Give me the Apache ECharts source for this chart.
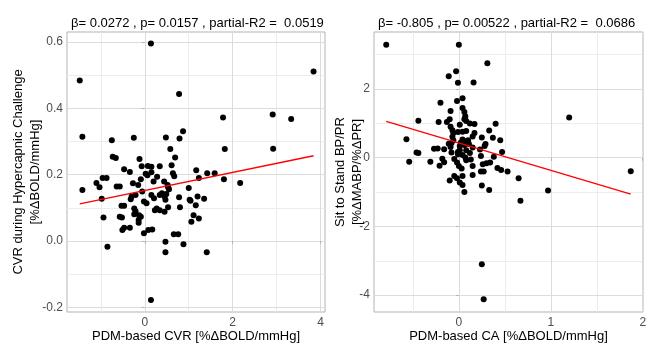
<!DOCTYPE html>
<html>
<head>
<meta charset="utf-8">
<script src="https://cdn.jsdelivr.net/npm/echarts@6/dist/echarts.min.js"></script>
<style>html,body{margin:0;padding:0;background:#fff}#c{width:654px;height:344px}</style>
</head>
<body>
<div id="c"></div>
<script>
// ---- Data ----
const cvrPoints = [
[-1.48,0.484],[0.14,0.595],[0.78,0.443],[3.84,0.511],[1.78,0.372],[2.91,0.381],[3.33,0.368],[-1.42,0.314],[-0.75,0.304],[-0.25,0.311],[0.48,0.312],[0.79,0.309],[0.87,0.331],
[2.92,0.278],[1.82,0.277],[0.58,0.277],[-0.73,0.254],[-0.66,0.25],[-0.12,0.247],[0.69,0.252],
[-0.47,0.216],[-0.34,0.208],[-0.07,0.225],[0.07,0.226],[0.15,0.224],[0.34,0.225],[0.61,0.228],[0.02,0.203],[0.15,0.207],[0.06,0.198],[0.64,0.204],[0.67,0.195],[1.17,0.213],[1.42,0.204],[1.59,0.204],[1.23,0.19],[1.80,0.186],[2.17,0.175],
[-1.42,0.154],[-1.10,0.175],[-1.03,0.162],[-0.96,0.19],[-0.87,0.19],[-0.98,0.127],[-0.94,0.071],[-0.85,-0.017],
[-0.64,0.164],[-0.57,0.164],[-0.53,0.106],[-0.47,0.106],[-0.57,0.073],[-0.52,0.071],[-0.51,0.033],[-0.47,0.04],[-0.34,0.04],
[-0.30,0.134],[-0.27,0.174],[-0.21,0.139],[-0.15,0.169],[-0.09,0.186],[-0.32,0.126],[-0.24,0.098],[-0.21,0.09],[-0.24,0.081],[-0.13,0.078],[-0.09,0.073],[-0.14,0.063],[-0.14,0.055],[-0.06,0.149],[-0.02,0.119],[0.04,0.114],[-0.02,0.023],[0.08,0.033],[0.17,0.035],[0.14,-0.178],
[0.15,0.139],[0.21,0.129],[0.20,0.179],[0.28,0.194],[0.23,0.093],[0.27,0.098],[0.34,0.093],[0.34,0.139],[0.39,0.144],[0.44,0.179],[0.45,0.134],[0.47,0.124],[0.49,0.142],[0.52,0.169],[0.53,0.162],[0.55,0.156],[0.45,0.088],[0.53,0.102],[0.47,-0.002],[0.47,-0.034],[0.66,0.02],[0.76,0.02],[0.88,-0.01],[0.78,0.132],[0.80,0.102],[1.00,0.16],[1.02,0.124],[1.04,0.121],[1.06,0.058],[1.11,0.078],[1.16,0.108],[1.20,0.134],[1.23,0.068],[1.35,0.127],[1.41,-0.034]
];
const cvrFit = [[-1.48,0.112],[3.84,0.257]];

const caPoints = [
[-0.79,3.29],[0.0,3.29],[0.31,2.75],[-0.03,2.52],[-0.11,2.37],[-0.01,2.18],[0.16,2.19],[0.04,1.73],[-0.02,1.65],[-0.2,1.6],[0.04,1.45],[0.06,1.33],[-0.09,1.36],[0.07,1.21],[0.06,1.12],[0.08,1.07],[-0.1,1.12],[-0.13,1.04],[-0.22,1.04],[-0.44,1.08],[1.2,1.17],
[0.01,0.96],[0.12,1.0],[0.17,0.98],[0.4,0.99],[0.33,0.79],[-0.09,0.9],[-0.07,0.8],[-0.06,0.72],[-0.01,0.75],[0.04,0.76],[0.08,0.78],[0.17,0.72],[0.15,0.62],[0.25,0.59],[0.45,0.51],[-0.57,0.54],[0.04,0.53],[0.06,0.48],[0.02,0.44],[-0.07,0.61],[-0.06,0.51],[0.1,0.51],[-0.11,0.41],[-0.08,0.43],[0.01,0.34],[0.06,0.37],[0.11,0.4],[0.29,0.4],[0.28,0.34],[-0.27,0.26],[-0.23,0.27],[-0.16,0.25],[0.23,0.24],[0.47,0.17],[-0.46,0.15],[-0.44,0.14],[-0.08,0.15],[-0.01,0.17],[0.01,0.22],[0.08,0.22],[0.12,0.14],[-0.01,0.1],[0.04,0.08],[0.07,0.01],[0.24,0.05],[0.38,0.03],[-0.09,0.31],[0.15,0.3],[0.37,0.58],
[-0.54,-0.12],[-0.31,-0.12],[-0.18,-0.03],[-0.16,-0.13],[-0.21,-0.23],[-0.05,-0.04],[-0.02,-0.14],[0.0,-0.24],[0.03,-0.31],[0.08,-0.07],[0.13,-0.05],[0.15,-0.24],[0.26,-0.19],[0.3,-0.16],[0.34,-0.14],[0.24,-0.4],[0.27,-0.4],[0.46,-0.36],[0.53,-0.4],[0.15,-0.5],[-0.05,-0.53],[-0.02,-0.6],[0.01,-0.72],[0.04,-0.79],[-0.1,-0.66],[0.04,-0.53],[0.25,-0.81],[0.33,-0.94],[0.06,-1.0],[0.65,-0.6],[0.67,-1.25],[0.97,-0.95],[1.87,-0.39],[0.25,-3.1],[0.27,-4.12],[0.42,-0.3]
];
const caFit = [[-0.79,1.06],[1.87,-1.06]];

const leftXTicks = [0, 2, 4];
const leftXMinor = [-1, 1, 3];
const leftYTicks = [-0.2, 0, 0.2, 0.4, 0.6];
const leftYMinor = [-0.1, 0.1, 0.3, 0.5];
const rightXTicks = [0, 1, 2];
const rightXMinor = [-0.5, 0.5, 1.5];
const rightYTicks = [-4, -2, 0, 2];
const rightYMinor = [-3, -1, 1, 3];

const titleLeft = 'β= 0.0272 , p= 0.0157 , partial-R2 =  0.0519';
const titleRight = 'β= -0.805 , p= 0.00522 , partial-R2 =  0.0686';

// ---- Chart ----
const FONT = '"Liberation Sans", Arial, sans-serif';
const MAJOR = '#dcdcdc', MINOR = '#ececec', BORDER = '#b3b3b3';

function gridLines(xMaj, xMin, yMaj, yMin) {
  const d = [];
  xMin.forEach(v => d.push({xAxis: v, lineStyle: {color: MINOR, width: 1, type: 'solid'}}));
  yMin.forEach(v => d.push({yAxis: v, lineStyle: {color: MINOR, width: 1, type: 'solid'}}));
  xMaj.forEach(v => d.push({xAxis: v, lineStyle: {color: MAJOR, width: 1, type: 'solid'}}));
  yMaj.forEach(v => d.push({yAxis: v, lineStyle: {color: MAJOR, width: 1, type: 'solid'}}));
  return {symbol: ['none', 'none'], silent: true, animation: false, z: 0, zlevel: 0, label: {show: false},
    emphasis: {disabled: true}, data: d};
}

function xAxisDef(idx, min, max, ticks, name) {
  return {
    type: 'value', gridIndex: idx, min: min, max: max,
    splitLine: {show: false}, axisLine: {show: false},
    axisTick: {show: true, customValues: ticks, length: 3, lineStyle: {color: BORDER}},
    axisLabel: {customValues: ticks, color: '#4d4d4d', fontSize: 12, fontFamily: FONT, margin: 5,
      formatter: v => String(v)},
    name: name, nameLocation: 'middle', nameGap: 18, nameMoveOverlap: false,
    nameTextStyle: {color: '#000', fontSize: 13, fontFamily: FONT}
  };
}
function yAxisDef(idx, min, max, ticks, name, fmt, gap) {
  return {
    type: 'value', gridIndex: idx, min: min, max: max,
    splitLine: {show: false}, axisLine: {show: false},
    axisTick: {show: true, customValues: ticks, length: 3, lineStyle: {color: BORDER}},
    axisLabel: {customValues: ticks, color: '#4d4d4d', fontSize: 12, fontFamily: FONT, margin: 4,
      formatter: fmt},
    name: name, nameLocation: 'middle', nameGap: gap, nameRotate: 90, nameMoveOverlap: false,
    nameTextStyle: {color: '#000', fontSize: 13, fontFamily: FONT, lineHeight: 17}
  };
}

const chart = echarts.init(document.getElementById('c'), null, {renderer: 'canvas'});
chart.setOption({
  animation: false,
  backgroundColor: '#fff',
  title: [
    {text: titleLeft, left: 66, top: 12, textStyle: {fontSize: 13, fontWeight: 'normal', color: '#000', fontFamily: FONT}},
    {text: titleRight, left: 373, top: 12, textStyle: {fontSize: 13, fontWeight: 'normal', color: '#000', fontFamily: FONT}}
  ],
  grid: [
    {left: 67, top: 32, width: 258, height: 280, show: true, borderColor: BORDER, borderWidth: 1, backgroundColor: 'transparent', containLabel: false, outerBoundsMode: 'none'},
    {left: 374, top: 32, width: 269, height: 280, show: true, borderColor: BORDER, borderWidth: 1, backgroundColor: 'transparent', containLabel: false, outerBoundsMode: 'none'}
  ],
  xAxis: [
    xAxisDef(0, -1.77, 4.1, leftXTicks, 'PDM-based CVR [%ΔBOLD/mmHg]'),
    xAxisDef(1, -0.923, 2.003, rightXTicks, 'PDM-based CA [%ΔBOLD/mmHg]')
  ],
  yAxis: [
    yAxisDef(0, -0.214, 0.630, leftYTicks, 'CVR during Hypercapnic Challenge\n[%ΔBOLD/mmHg]', v => v.toFixed(1), 23),
    yAxisDef(1, -4.49, 3.66, rightYTicks, 'Sit to Stand BP/PR\n[%ΔMABP/%ΔPR]', v => String(v), 8)
  ],
  series: [
    {type: 'scatter', xAxisIndex: 0, yAxisIndex: 0, data: [], z: 1, silent: true, markLine: gridLines(leftXTicks, leftXMinor, leftYTicks, leftYMinor)},
    {type: 'scatter', xAxisIndex: 1, yAxisIndex: 1, data: [], z: 1, silent: true, markLine: gridLines(rightXTicks, rightXMinor, rightYTicks, rightYMinor)},
    {type: 'scatter', xAxisIndex: 0, yAxisIndex: 0, data: cvrPoints, symbolSize: 6, itemStyle: {color: '#000', opacity: 1}, z: 3, silent: true},
    {type: 'scatter', xAxisIndex: 1, yAxisIndex: 1, data: caPoints, symbolSize: 6, itemStyle: {color: '#000', opacity: 1}, z: 3, silent: true},
    {type: 'line', xAxisIndex: 0, yAxisIndex: 0, data: cvrFit, showSymbol: false, symbol: 'none', lineStyle: {color: '#ff0000', width: 1.3}, z: 4, silent: true},
    {type: 'line', xAxisIndex: 1, yAxisIndex: 1, data: caFit, showSymbol: false, symbol: 'none', lineStyle: {color: '#ff0000', width: 1.3}, z: 4, silent: true}
  ]
});
</script>
</body>
</html>
